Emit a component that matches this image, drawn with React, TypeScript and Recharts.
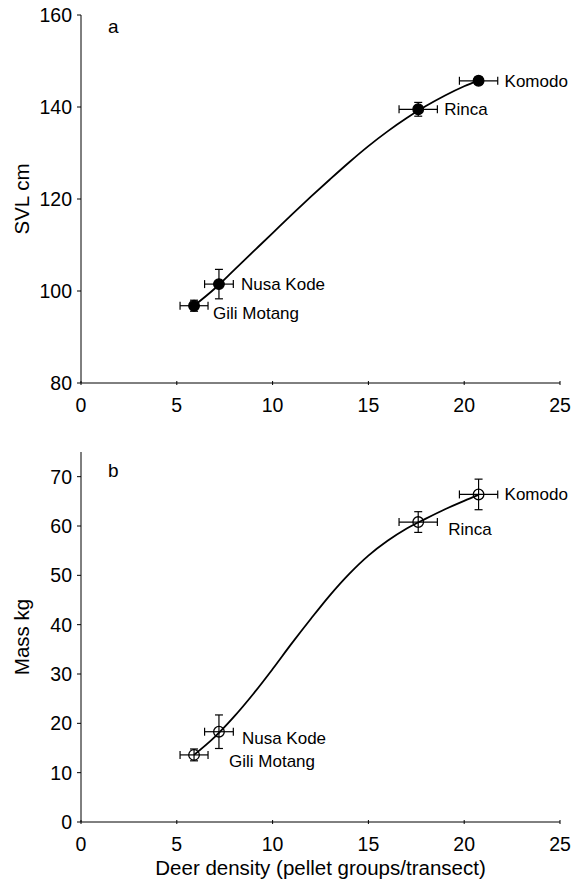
import React from 'react';
import { ComposedChart, Line, Scatter, XAxis, YAxis, ErrorBar } from 'recharts';

// islands, deer density (x) and body size (y) with errors
const sites = ['Gili Motang', 'Nusa Kode', 'Rinca', 'Komodo'];
const density = [5.9, 7.2, 17.6, 20.75];
const densityErr = [0.73, 0.75, 1.0, 1.0];
const svl = [96.8, 101.5, 139.5, 145.7];
const svlErr = [1.2, 3.2, 1.5, 0.8];
const mass = [13.6, 18.3, 60.8, 66.4];
const massErr = [1.2, 3.4, 2.1, 3.1];

// fitted curves
const curveX = [5.9, 7, 8, 9, 10, 11, 12, 13, 14, 15, 16, 17, 18, 19, 20, 20.75];
const svlCurve = [96.8, 100.6, 104.6, 108.6, 112.6, 116.6, 120.5, 124.3, 128.0, 131.5, 134.7, 137.6, 140.2, 142.5, 144.5, 145.8];
const massCurve = [13.6, 17.3, 21.4, 26.0, 31.0, 36.2, 41.2, 46.0, 50.3, 54.0, 57.0, 59.5, 61.5, 63.4, 65.1, 66.3];

const xTicks = [0, 5, 10, 15, 20, 25];
const svlTicks = [80, 100, 120, 140, 160];
const massTicks = [0, 10, 20, 30, 40, 50, 60, 70];

const FONT = '"Liberation Sans", Arial, sans-serif';

const svlPoints = sites.map((name, i) => ({ name, x: density[i], y: svl[i], xErr: densityErr[i], yErr: svlErr[i] }));
const massPoints = sites.map((name, i) => ({ name, x: density[i], y: mass[i], xErr: densityErr[i], yErr: massErr[i] }));
const svlLine = curveX.map((x, i) => ({ x, y: svlCurve[i] }));
const massLine = curveX.map((x, i) => ({ x, y: massCurve[i] }));

// label offsets from marker centre (dx, baseline dy)
const topShift: Record<string, [number, number]> = {
  'Gili Motang': [19, 13],
  'Nusa Kode': [22, 6],
  Rinca: [26, 6],
  Komodo: [26, 6],
};
const bottomShift: Record<string, [number, number]> = {
  'Gili Motang': [35, 12],
  'Nusa Kode': [23, 12],
  Rinca: [30, 13],
  Komodo: [26, 6],
};

const makeShape = (filled: boolean, shift: Record<string, [number, number]>) => (p: any) => {
  const s = shift[p.payload.name];
  return (
    <g>
      <circle cx={p.cx} cy={p.cy} r={5.3} fill={filled ? '#000' : 'none'} stroke="#000" strokeWidth={1.3} />
      <text x={p.cx + s[0]} y={p.cy + s[1]} fontSize={17} fontFamily={FONT} fill="#000">
        {p.payload.name}
      </text>
    </g>
  );
};

const XTick = (p: any) => (
  <g>
    <line x1={p.x} x2={p.x} y1={p.y} y2={p.y - 4} stroke="#000" strokeWidth={1} />
    <text x={p.x} y={p.y + 27} textAnchor="middle" fontSize={19.5} fontFamily={FONT} fill="#000">
      {p.payload.value}
    </text>
  </g>
);

const yTickStyle = { fontSize: 19.5, fontFamily: FONT, fill: '#000' };

const Panel = ({ points, line, filled, shift, domain, ticks, yLabel, xLabel, height, xAxisHeight }: any) => (
  <ComposedChart width={584} height={height} margin={{ top: 15, right: 24, bottom: 0, left: 0 }}>
    <XAxis
      type="number"
      dataKey="x"
      domain={[0, 25]}
      ticks={xTicks}
      height={xAxisHeight}
      tickSize={0}
      tick={<XTick />}
      stroke="#000"
      label={xLabel ? { value: xLabel, position: 'insideBottom', offset: 8, fontSize: 20.5, fontFamily: FONT, fill: '#000' } : undefined}
    />
    <YAxis
      type="number"
      dataKey="y"
      domain={domain}
      ticks={ticks}
      width={81}
      tickSize={4}
      tickMargin={5}
      tick={yTickStyle}
      stroke="#000"
      label={{ value: yLabel, angle: -90, position: 'insideLeft', offset: 22, fontSize: 20.5, fontFamily: FONT, fill: '#000', style: { textAnchor: 'middle' } }}
    />
    <Line data={line} dataKey="y" type="monotone" stroke="#000" strokeWidth={1.8} dot={false} isAnimationActive={false} />
    <Scatter data={points} dataKey="y" shape={makeShape(filled, shift)} isAnimationActive={false}>
      <ErrorBar dataKey="xErr" direction="x" width={4} stroke="#000" strokeWidth={1.2} />
      <ErrorBar dataKey="yErr" direction="y" width={4} stroke="#000" strokeWidth={1.2} />
    </Scatter>
  </ComposedChart>
);

export default function App() {
  return (
    <div style={{ position: 'absolute', left: 0, top: 0, width: 584, height: 883, background: '#fff' }}>
      <style>{'svg.recharts-surface{overflow:visible}'}</style>
      <div style={{ position: 'absolute', left: 0, top: 0 }}>
        <Panel points={svlPoints} line={svlLine} filled shift={topShift} domain={[80, 160]} ticks={svlTicks} yLabel="SVL cm" height={430} xAxisHeight={47} />
      </div>
      <div style={{ position: 'absolute', left: 0, top: 437 }}>
        <Panel
          points={massPoints}
          line={massLine}
          filled={false}
          shift={bottomShift}
          domain={[0, 75]}
          ticks={massTicks}
          yLabel="Mass kg"
          xLabel="Deer density (pellet groups/transect)"
          height={446}
          xAxisHeight={61}
        />
      </div>
      <svg width={584} height={883} style={{ position: 'absolute', left: 0, top: 0, pointerEvents: 'none' }}>
        <text x={108} y={33} fontSize={19} fontFamily={FONT} fill="#000">a</text>
        <text x={108} y={477} fontSize={19} fontFamily={FONT} fill="#000">b</text>
      </svg>
    </div>
  );
}
